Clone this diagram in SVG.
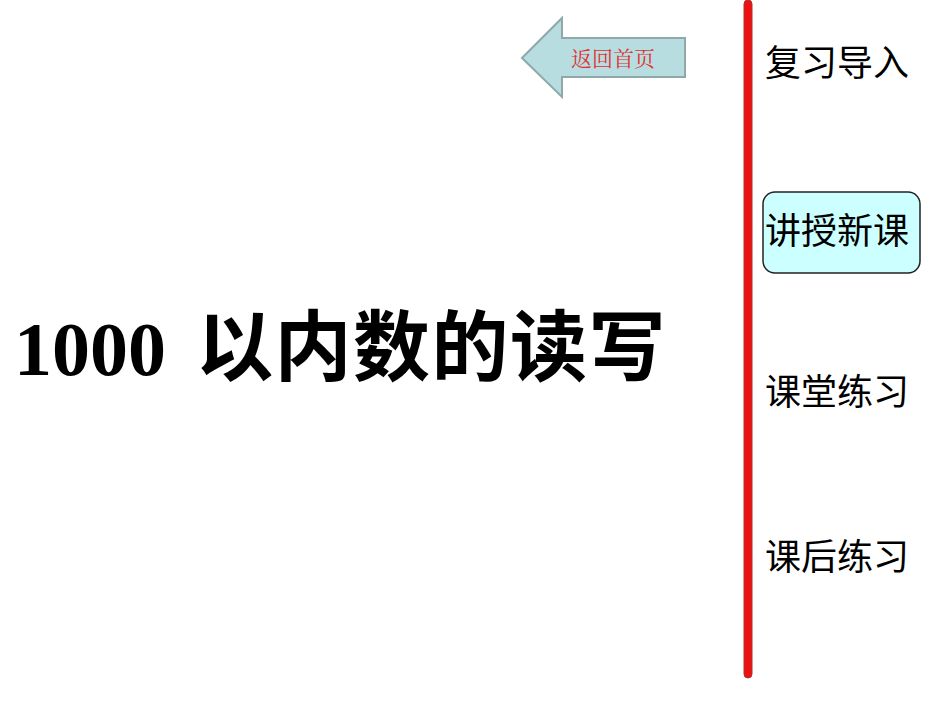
<svg xmlns="http://www.w3.org/2000/svg" width="950" height="713" viewBox="0 0 950 713">
<style>
.m{font-family:"Noto Sans CJK SC",sans-serif;font-size:36px;fill:#000}
</style>
<rect width="950" height="713" fill="#fff"/>
<g id="back">
<polygon points="522,58 562,18 562,38 685,38 685,77 562,77 562,97" fill="#b7dde0" stroke="#8fa9a9" stroke-width="2"/>
<text x="613" y="66" text-anchor="middle" font-family="'Noto Serif CJK SC','Noto Sans CJK SC',serif" font-size="21" fill="#e03030">返回首页</text>
</g>
<g id="line"><rect x="744" y="0" width="8" height="678" rx="4" fill="#ee1111" stroke="#a33" stroke-width="1"/></g>
<g id="title"><text x="14" y="375" font-family="'Liberation Serif','Noto Sans CJK SC',serif" font-weight="bold" font-size="76" fill="#000">1000 <tspan x="196" font-family="'Noto Sans CJK SC',sans-serif" font-size="77" letter-spacing="1.5">以内数的读写</tspan></text></g>
<g id="n1"><text class="m" x="765" y="76">复习导入</text></g>
<g id="n2"><rect x="763" y="192" width="157" height="81" rx="12" fill="#ccffff" stroke="#222" stroke-width="1.5"/><text class="m" x="765" y="244">讲授新课</text></g>
<g id="n3"><text class="m" x="765" y="405">课堂练习</text></g>
<g id="n4"><text class="m" x="765" y="570">课后练习</text></g>
</svg>
